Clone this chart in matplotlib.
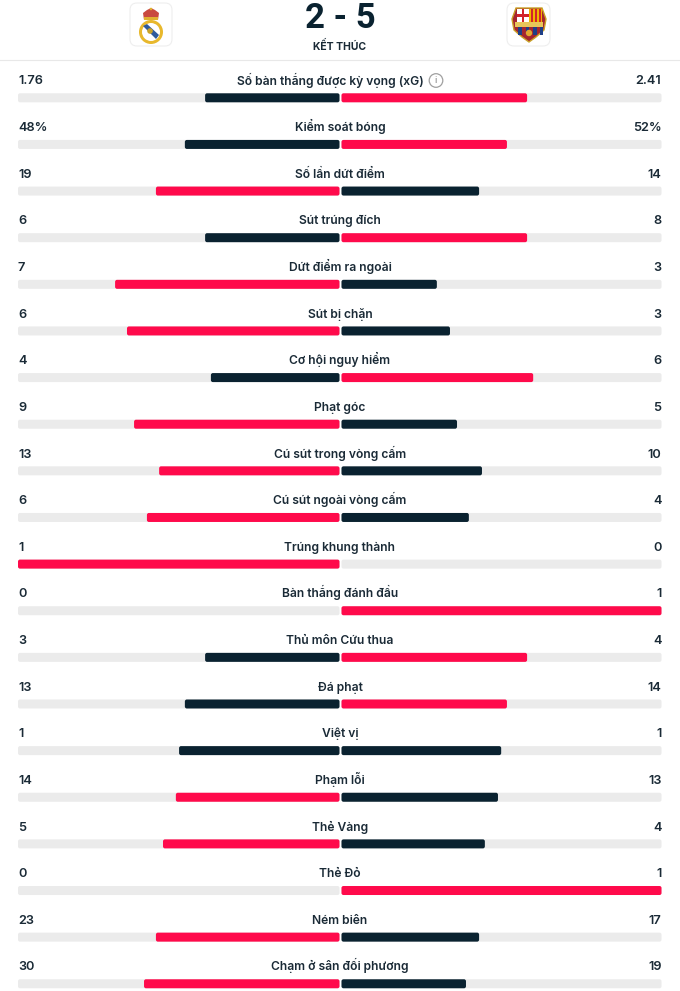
"""
Thống kê trận đấu Real Madrid 2-5 Barcelona.
"""

import matplotlib
matplotlib.use('Agg')
import matplotlib.pyplot as plt
from matplotlib.patches import Circle, FancyBboxPatch, Polygon, Rectangle

STAT_NAMES = [
    'Số bàn thắng được kỳ vọng (xG)', 'Kiểm soát bóng', 'Số lần dứt điểm',
    'Sút trúng đích', 'Dứt điểm ra ngoài', 'Sút bị chặn', 'Cơ hội nguy hiểm',
    'Phạt góc', 'Cú sút trong vòng cấm', 'Cú sút ngoài vòng cấm',
    'Trúng khung thành', 'Bàn thắng đánh đầu', 'Thủ môn Cứu thua', 'Đá phạt',
    'Việt vị', 'Phạm lỗi', 'Thẻ Vàng', 'Thẻ Đỏ', 'Ném biên', 'Chạm ở sân đối phương',
]
HOME_LABELS = ['1.76', '48%', '19', '6', '7', '6', '4', '9', '13', '6',
               '1', '0', '3', '13', '1', '14', '5', '0', '23', '30']
AWAY_LABELS = ['2.41', '52%', '14', '8', '3', '3', '6', '5', '10', '4',
               '0', '1', '4', '14', '1', '13', '4', '1', '17', '19']
# phần trăm thanh
HOME_SHARE = [41.8, 48.1, 57.1, 41.8, 69.8, 66.1, 40.0, 63.9, 56.1, 59.9,
              100, 0, 41.8, 48.1, 49.9, 50.9, 54.9, 0, 57.1, 60.8]
AWAY_SHARE = [58.0, 51.7, 43.0, 58.0, 29.8, 33.9, 59.9, 36.1, 43.9, 39.8,
              0, 100, 58.0, 51.7, 49.9, 48.9, 44.8, 100, 43.0, 38.9]

DARK = '#0a2230'
RED = '#ff0a4b'
TRACK = '#ebebeb'
TEXT = '#1a2a36'

plt.rcParams['font.family'] = ['Inter', 'DejaVu Sans']


def rounded_bar(ax, x0, x1, y, color):
    if x1 - x0 <= 0:
        return
    ax.add_patch(FancyBboxPatch(
        (x0 + 1, y + 1), x1 - x0 - 2, 7,
        boxstyle='round,pad=1,rounding_size=2',
        facecolor=color, edgecolor='none',
    ))


def logo_box(ax, x0, x1):
    ax.add_patch(FancyBboxPatch((x0 + 2, 5), x1 - x0 - 4, 39, boxstyle='round,pad=2,rounding_size=7',
                                facecolor='white', edgecolor='#eeeeee', linewidth=0.8))


def draw_real_logo(ax):
    logo_box(ax, 130, 172)
    ax.add_patch(Circle((151, 32), 12, facecolor='#e8b82c', edgecolor='none'))
    ax.add_patch(Circle((151, 32), 9, facecolor='white', edgecolor='none'))
    ax.add_patch(Polygon([(143, 26), (147, 24), (159, 35), (156, 39)],
                         facecolor='#2f5a9c', edgecolor='none'))
    ax.add_patch(Circle((150, 31), 2.8, facecolor='#c9a227', edgecolor='none'))
    ax.add_patch(Polygon([(144, 20), (143, 13), (147, 10), (151, 8), (155, 10), (159, 13), (158, 20)],
                         facecolor='#c9493f', edgecolor='none'))
    ax.add_patch(Rectangle((144, 17), 14, 3, facecolor='#e0b030', edgecolor='none'))
    ax.add_patch(Circle((151, 9), 1.3, facecolor='#e0b030', edgecolor='none'))


def draw_barca_logo(ax):
    logo_box(ax, 507, 550)
    ax.add_patch(Polygon([(516, 8), (542, 8), (546, 19), (544, 30), (536, 37), (529, 42),
                          (522, 37), (514, 30), (512, 19)],
                         facecolor='#a5252f', edgecolor='#c9a227', linewidth=1))
    ax.add_patch(Rectangle((517, 9), 11.5, 13, facecolor='white', edgecolor='none'))
    ax.add_patch(Rectangle((521.5, 9), 2.8, 13, facecolor='#d2232a', edgecolor='none'))
    ax.add_patch(Rectangle((517, 14), 11.5, 2.8, facecolor='#d2232a', edgecolor='none'))
    ax.add_patch(Rectangle((529, 9), 13, 13, facecolor='#f0b400', edgecolor='none'))
    for offset in (531, 535, 539):
        ax.add_patch(Rectangle((offset, 9), 1.8, 13, facecolor='#d2232a', edgecolor='none'))
    ax.add_patch(Rectangle((515, 22), 28, 4.5, facecolor='#e8c65a', edgecolor='none'))
    for offset in (518, 525.5, 533, 539.5):
        ax.add_patch(Rectangle((offset, 26.5), 3.8, 8, facecolor='#1f3f86', edgecolor='none'))
    ax.add_patch(Circle((529, 33), 3.2, facecolor='#e3a72f', edgecolor='none'))


fig = plt.figure(figsize=(6.8, 9.91), dpi=100)
ax = fig.add_axes([0, 0, 1, 1])
ax.set_xlim(0, 680)
ax.set_ylim(991, 0)
ax.axis('off')

draw_real_logo(ax)
draw_barca_logo(ax)
ax.text(340, 28, '2 - 5', ha='center', va='baseline', fontsize=25, fontweight='bold',
        family=['Roboto'], color=DARK)
ax.text(340, 50, 'KẾT THÚC', ha='center', va='baseline', fontsize=7.5, fontweight='bold', color=TEXT)
ax.plot([0, 680], [59.5, 59.5], color='#e8e8e8', linewidth=0.8)

LEFT, MID_L, MID_R, RIGHT = 18, 339.5, 341.5, 661.5
for i, name in enumerate(STAT_NAMES):
    y_text = 84.5 + i * 46.63
    y_bar = 93.3 + i * 46.63
    home_w = (MID_L - LEFT) * HOME_SHARE[i] / 100
    away_w = (RIGHT - MID_R) * AWAY_SHARE[i] / 100

    # dòng xG lệch trái để chừa chỗ cho icon
    x_name = 330.5 if i == 0 else 340
    ax.text(x_name, y_text, name, ha='center', va='baseline', fontsize=8.7, fontweight='semibold', color=TEXT)
    ax.text(LEFT, y_text, HOME_LABELS[i], ha='left', va='baseline', fontsize=9.2, fontweight='semibold', color=TEXT)
    ax.text(RIGHT, y_text, AWAY_LABELS[i], ha='right', va='baseline', fontsize=9.2, fontweight='semibold', color=TEXT)

    rounded_bar(ax, LEFT, MID_L, y_bar, TRACK)
    rounded_bar(ax, MID_R, RIGHT, y_bar, TRACK)
    rounded_bar(ax, MID_L - home_w, MID_L, y_bar, RED if HOME_SHARE[i] > AWAY_SHARE[i] else DARK)
    rounded_bar(ax, MID_R, MID_R + away_w, y_bar, RED if AWAY_SHARE[i] > HOME_SHARE[i] else DARK)

# icon thông tin cạnh xG
ax.add_patch(Circle((436, 80.5), 6.8, facecolor='white', edgecolor='#a0a0a0', linewidth=0.9))
ax.text(436, 80.5, 'i', ha='center', va='center', fontsize=6.5, color='#777777')

fig.savefig('out.png', dpi=100)
